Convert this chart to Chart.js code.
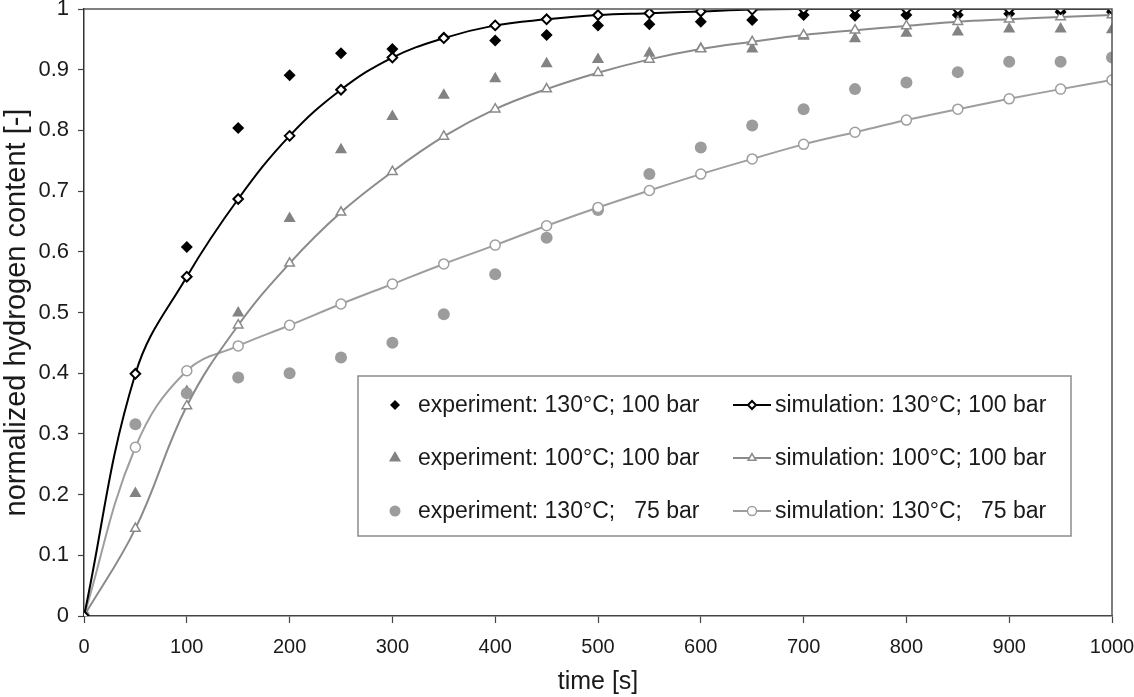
<!DOCTYPE html>
<html>
<head>
<meta charset="utf-8">
<script src="https://cdn.jsdelivr.net/npm/chart.js@4.4.1/dist/chart.umd.min.js"></script>
<style>
  body { margin: 0; background: #fff; }
  #wrap { width: 1134px; height: 697px; position: relative; }
</style>
</head>
<body>
<div id="wrap"><canvas id="h2Chart"></canvas></div>
<script>
// time [s]
const times = [0, 50, 100, 150, 200, 250, 300, 350, 400, 450, 500,
               550, 600, 650, 700, 750, 800, 850, 900, 950, 1000];

// experiments (markers only)
const exp130_100 = [0, null, 0.608, 0.804, 0.891, 0.927, 0.934, 0.953, 0.948, 0.957, 0.973,
                    0.975, 0.979, 0.982, 0.990, 0.989, 0.990, 0.990, 0.992, 0.995, 0.995];
const exp100_100 = [0, 0.202, 0.370, 0.499, 0.655, 0.768, 0.823, 0.858, 0.885, 0.910, 0.917,
                    0.927, 0.935, 0.934, 0.955, 0.951, 0.960, 0.962, 0.967, 0.967, 0.966];
const exp130_75  = [0, 0.316, 0.367, 0.393, 0.400, 0.426, 0.450, 0.497, 0.563, 0.623, 0.669,
                    0.728, 0.772, 0.808, 0.835, 0.868, 0.879, 0.896, 0.913, 0.913, 0.920];

// simulations (lines)
const sim130_100 = [0, 0.399, 0.559, 0.687, 0.791, 0.867, 0.920, 0.952, 0.973, 0.983, 0.990,
                    0.993, 0.996, 0.999, 1.0, 1.0, 1.0, 1.0, 1.0, 1.0, 1.0];
const sim100_100 = [0, 0.144, 0.346, 0.479, 0.581, 0.665, 0.732, 0.790, 0.835, 0.868, 0.895,
                    0.917, 0.934, 0.946, 0.957, 0.965, 0.972, 0.979, 0.983, 0.987, 0.990];
const sim130_75  = [0, 0.278, 0.404, 0.445, 0.479, 0.514, 0.547, 0.580, 0.611, 0.643, 0.673,
                    0.701, 0.728, 0.753, 0.777, 0.797, 0.817, 0.835, 0.852, 0.868, 0.883];

const yLabels = ['0', '0.1', '0.2', '0.3', '0.4', '0.5', '0.6', '0.7', '0.8', '0.9', '1'];

const FONT = '"Liberation Sans", Arial, sans-serif';

function pts(vals) {
  return vals.map((v, i) => ({ x: times[i], y: v }));
}

// lower order = drawn on top
const datasets = [
  { label: 'simulation: 130°C; 100 bar', data: pts(sim130_100), order: 0,
    borderColor: '#000', borderWidth: 2, tension: 0.4,
    pointStyle: 'rectRot', pointRadius: 4.8, pointBackgroundColor: '#fff',
    pointBorderColor: '#000', pointBorderWidth: 2 },
  { label: 'simulation: 100°C; 100 bar', data: pts(sim100_100), order: 0,
    borderColor: '#8a8a8a', borderWidth: 2, tension: 0.4,
    pointStyle: 'triangle', pointRadius: 5.5, pointBackgroundColor: '#fff',
    pointBorderColor: '#8a8a8a', pointBorderWidth: 1.5 },
  { label: 'simulation: 130°C;   75 bar', data: pts(sim130_75), order: 0,
    borderColor: '#9e9e9e', borderWidth: 2, tension: 0.4,
    pointStyle: 'circle', pointRadius: 5, pointBackgroundColor: '#fff',
    pointBorderColor: '#9e9e9e', pointBorderWidth: 1.5 },
  { label: 'experiment: 130°C; 100 bar', data: pts(exp130_100), order: 1, showLine: false,
    pointStyle: 'rectRot', pointRadius: 6, pointBackgroundColor: '#000',
    pointBorderColor: '#000', pointBorderWidth: 0 },
  { label: 'experiment: 100°C; 100 bar', data: pts(exp100_100), order: 2, showLine: false,
    pointStyle: 'triangle', pointRadius: 7, pointBackgroundColor: '#838383',
    pointBorderColor: '#838383', pointBorderWidth: 0 },
  { label: 'experiment: 130°C;   75 bar', data: pts(exp130_75), order: 1, showLine: false,
    pointStyle: 'circle', pointRadius: 6, pointBackgroundColor: '#9c9c9c',
    pointBorderColor: '#9c9c9c', pointBorderWidth: 0 }
];

// top and right frame lines of the plot
const frame = {
  id: 'frame',
  afterDraw(chart) {
    const a = chart.chartArea, ctx = chart.ctx;
    ctx.save();
    ctx.strokeStyle = '#555';
    ctx.lineWidth = 1.5;
    ctx.beginPath();
    ctx.moveTo(a.left, a.top);
    ctx.lineTo(a.right, a.top);
    ctx.lineTo(a.right, a.bottom);
    ctx.stroke();
    ctx.restore();
  }
};

function marker(ctx, ds, x, y, r) {
  ctx.fillStyle = ds.pointBackgroundColor;
  ctx.strokeStyle = ds.pointBorderColor;
  ctx.lineWidth = ds.pointBorderWidth;
  Chart.helpers.drawPoint(ctx, { pointStyle: ds.pointStyle, radius: r, rotation: 0,
    borderWidth: ds.pointBorderWidth }, x, y);
}

// legend box inside the plot, two columns
const legendBox = {
  id: 'legendBox',
  afterDraw(chart) {
    const ctx = chart.ctx;
    const ds = chart.data.datasets;
    ctx.save();
    ctx.fillStyle = '#fff';
    ctx.strokeStyle = '#8c8c8c';
    ctx.lineWidth = 1.5;
    ctx.fillRect(358, 376, 713, 160);
    ctx.strokeRect(358, 376, 713, 160);
    ctx.font = '23px ' + FONT;
    ctx.textBaseline = 'middle';
    const rows = [405, 458, 511];
    const expR = [5, 7, 5.5], simR = [4, 4.5, 4.5];
    rows.forEach((y, i) => {
      const e = ds[3 + i], s = ds[i];
      marker(ctx, e, 395, y, expR[i]);
      ctx.fillStyle = '#1a1a1a';
      ctx.fillText(e.label, 418, y + 1);
      ctx.strokeStyle = s.borderColor;
      ctx.lineWidth = 2;
      ctx.beginPath();
      ctx.moveTo(733, y);
      ctx.lineTo(771, y);
      ctx.stroke();
      marker(ctx, s, 752, y, simR[i]);
      ctx.fillStyle = '#1a1a1a';
      ctx.fillText(s.label, 775, y + 1);
    });
    ctx.restore();
  }
};

new Chart(document.getElementById('h2Chart'), {
  type: 'line',
  data: { datasets: datasets },
  plugins: [frame, legendBox],
  options: {
    responsive: true,
    maintainAspectRatio: false,
    animation: false,
    layout: { padding: { top: 9, right: 22, left: 0, bottom: 0 } },
    plugins: { legend: { display: false }, tooltip: { enabled: false } },
    scales: {
      x: {
        type: 'linear', min: 0, max: 1000,
        afterFit(scale) {
          scale.height = 81;
          scale.paddingLeft = 0;
          scale.paddingRight = 0;
        },
        ticks: { stepSize: 100, color: '#1a1a1a', padding: 12, maxRotation: 0,
                 font: { family: FONT, size: 20 },
                 callback: (v) => String(v) },
        grid: { drawOnChartArea: false, tickLength: 7, tickColor: '#444', tickWidth: 1.2 },
        border: { color: '#444', width: 1.5 },
        title: { display: true, text: 'time [s]', color: '#1a1a1a', padding: 0,
                 font: { family: FONT, size: 25 } }
      },
      y: {
        min: 0, max: 1,
        afterFit(scale) {
          scale.width = 84;
          scale.paddingTop = 0;
          scale.paddingBottom = 0;
        },
        ticks: { stepSize: 0.1, color: '#1a1a1a', padding: 9,
                 font: { family: FONT, size: 22 },
                 callback: (v) => yLabels[Math.round(v * 10)] },
        grid: { drawOnChartArea: false, tickLength: 6, tickColor: '#444', tickWidth: 1.2 },
        border: { color: '#333', width: 1.5 },
        title: { display: true, text: 'normalized hydrogen content [-]', color: '#1a1a1a',
                 padding: 0, font: { family: FONT, size: 29 } }
      }
    }
  }
});
</script>
</body>
</html>
